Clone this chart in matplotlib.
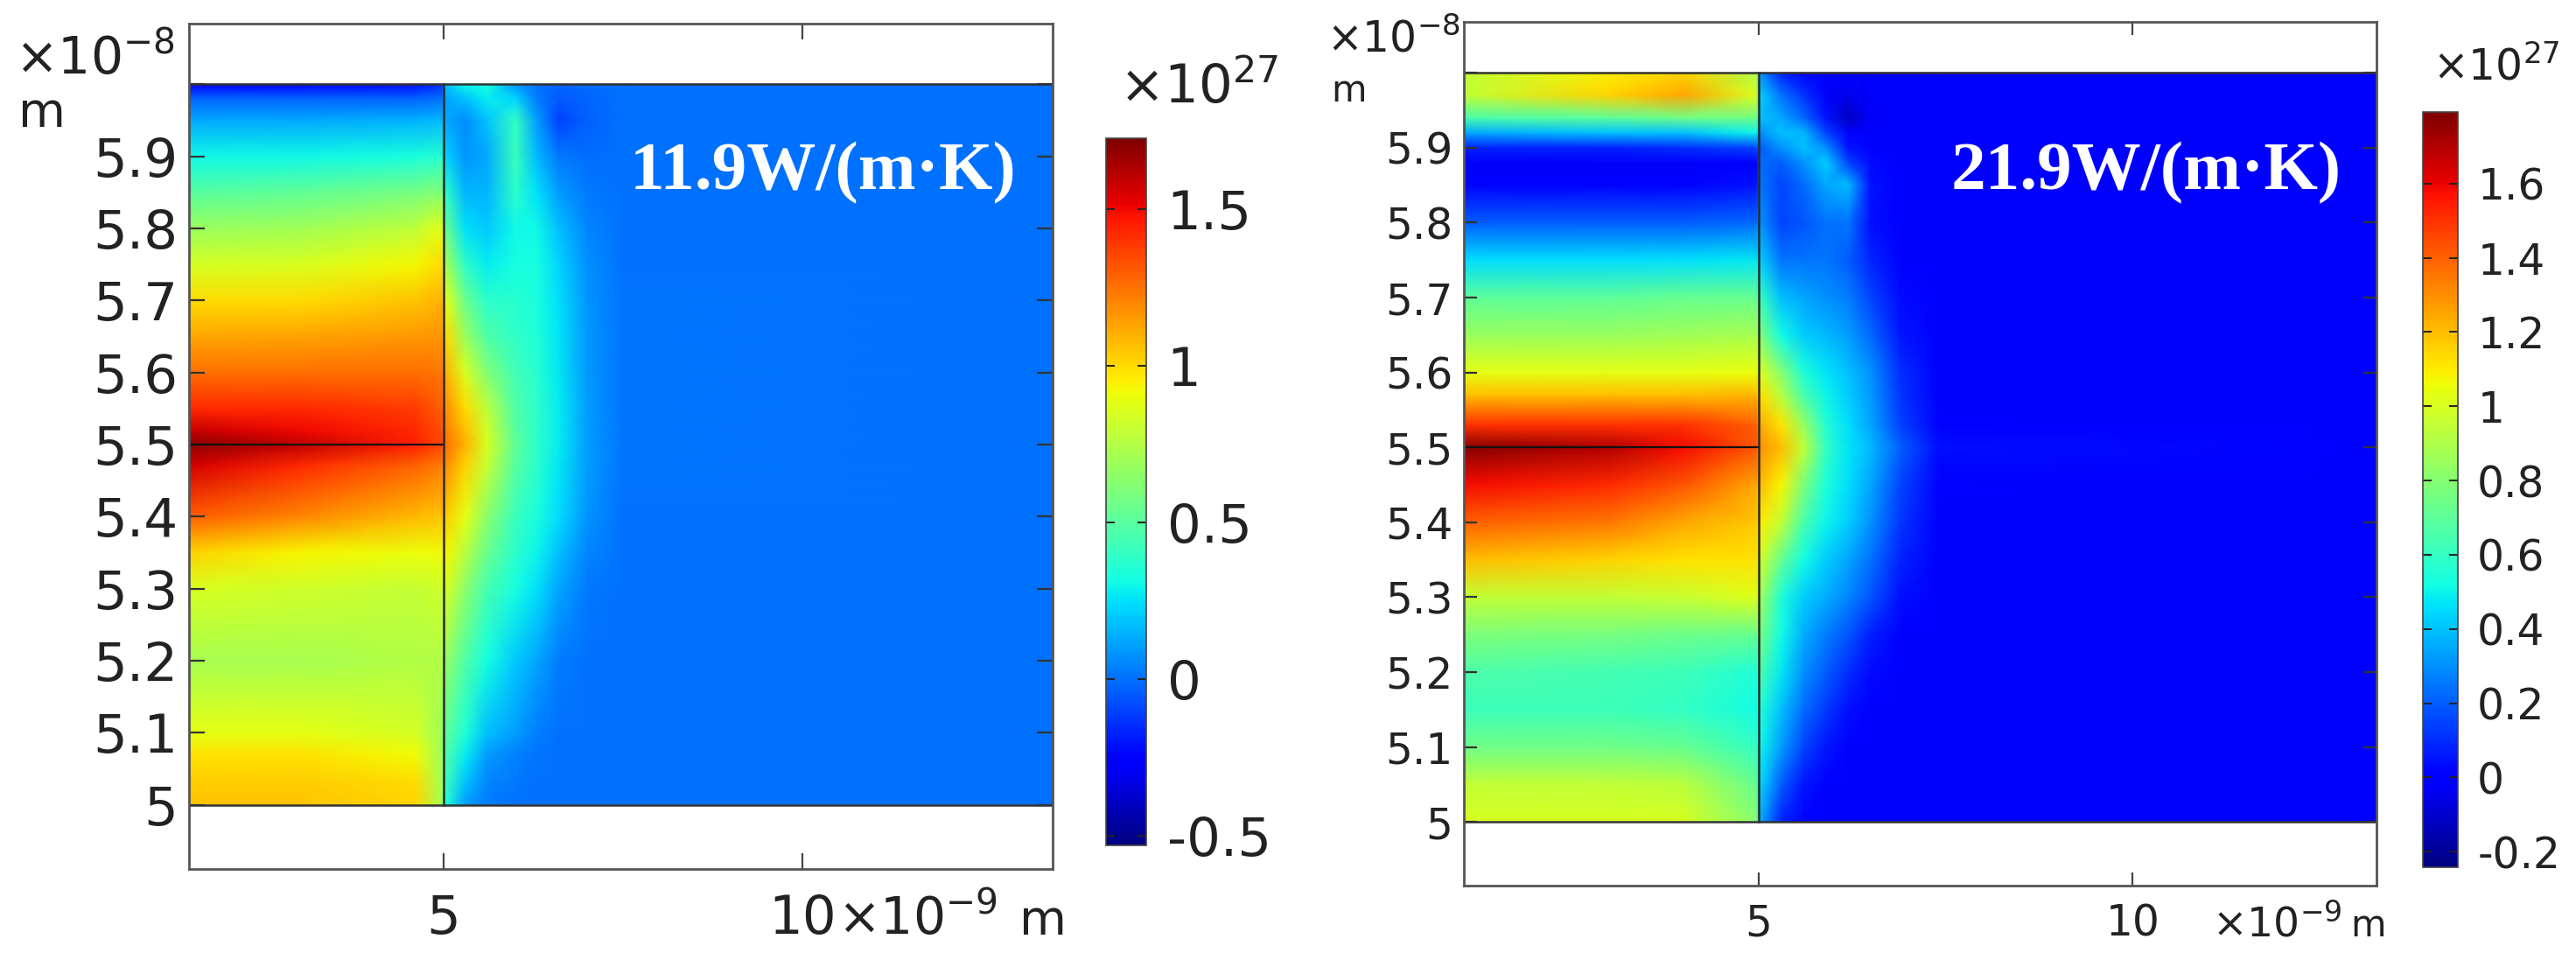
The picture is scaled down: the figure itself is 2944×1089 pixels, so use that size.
import numpy as np
import matplotlib
matplotlib.use("Agg")
import matplotlib.pyplot as plt

plt.rcParams['mathtext.default'] = 'regular'
plt.rcParams['font.family'] = 'DejaVu Sans'
W, H = 2944, 1089

# sample positions (x in 1e-9 m, y in 1e-8 m)
x_a = [1.45, 3.0, 4.6, 4.97, 5.03, 5.3, 5.6, 6.0, 6.3, 6.6, 7.0, 7.5, 13.5]
y_a = [5.0, 5.03, 5.07, 5.1, 5.2, 5.3, 5.35, 5.4, 5.47, 5.5, 5.52, 5.55, 5.6,
       5.65, 5.7, 5.75, 5.8, 5.85, 5.9, 5.95, 5.98, 6.0]
field_a = [
 [1.05,1.05,1.02,0.72, 0.35,0.10,0.03,0.00,0.00,0.00,0.00,0.00,0.00],
 [1.03,1.03,1.00,0.72, 0.42,0.18,0.05,0.02,0.00,0.00,0.00,0.00,0.00],
 [0.98,0.98,0.92,0.70, 0.48,0.28,0.10,0.04,0.01,0.00,0.00,0.00,0.00],
 [0.88,0.88,0.84,0.70, 0.52,0.35,0.18,0.10,0.03,0.00,0.00,0.00,0.00],
 [0.72,0.72,0.74,0.74, 0.66,0.48,0.32,0.20,0.12,0.03,0.00,0.00,0.00],
 [0.85,0.82,0.80,0.82, 0.85,0.65,0.45,0.32,0.25,0.12,0.02,0.00,0.00],
 [1.02,0.94,0.90,0.92, 0.94,0.76,0.55,0.37,0.29,0.18,0.05,0.00,0.00],
 [1.30,1.20,1.08,1.05, 1.03,0.88,0.65,0.42,0.33,0.24,0.08,0.00,0.00],
 [1.55,1.42,1.28,1.22, 1.18,1.02,0.80,0.50,0.37,0.27,0.10,0.01,0.00],
 [1.70,1.60,1.45,1.35, 1.25,1.10,0.85,0.52,0.38,0.28,0.10,0.01,0.00],
 [1.58,1.50,1.42,1.33, 1.22,1.06,0.82,0.50,0.38,0.28,0.10,0.01,0.00],
 [1.42,1.42,1.38,1.30, 1.18,1.00,0.78,0.48,0.38,0.28,0.10,0.01,0.00],
 [1.25,1.25,1.25,1.24, 1.10,0.85,0.62,0.43,0.36,0.27,0.09,0.01,0.00],
 [1.12,1.13,1.16,1.17, 1.00,0.68,0.48,0.39,0.35,0.26,0.09,0.01,0.00],
 [1.00,1.00,1.05,1.10, 0.88,0.55,0.38,0.36,0.33,0.25,0.08,0.01,0.00],
 [0.84,0.85,0.93,1.00, 0.72,0.38,0.28,0.32,0.32,0.22,0.07,0.00,0.00],
 [0.68,0.70,0.78,0.88, 0.55,0.25,0.20,0.30,0.30,0.18,0.05,0.00,0.00],
 [0.50,0.52,0.58,0.62, 0.38,0.15,0.15,0.38,0.25,0.10,0.02,0.00,0.00],
 [0.30,0.30,0.33,0.36, 0.22,0.08,0.13,0.42,0.16,0.02,-.01,0.00,0.00],
 [0.13,0.13,0.14,0.16, 0.12,0.06,0.18,0.40,0.10,-.10,-.03,0.00,0.00],
 [-.02,-.02,-.02,0.00, 0.12,0.18,0.28,0.22,0.03,-.05,-.02,0.00,0.00],
 [-.25,-.25,-.22,-.15, 0.18,0.30,0.32,0.08,0.00,-.02,-.01,0.00,0.00],
]
x_b = [1.06, 3.0, 4.0, 4.97, 5.03, 5.3, 5.6, 5.9, 6.2, 6.5, 6.9, 7.4, 13.3]
y_b = [5.0, 5.05, 5.1, 5.15, 5.2, 5.25, 5.3, 5.35, 5.4, 5.45, 5.5, 5.53, 5.57, 5.6,
       5.65, 5.7, 5.75, 5.8, 5.85, 5.88, 5.9, 5.92, 5.94, 5.97, 6.0]
field_b = [
 [1.00,1.00,1.00,0.80, 0.35,0.08,0.02,0.00,0.00,0.00,0.00,0.00,0.00],
 [0.95,0.95,0.93,0.72, 0.44,0.20,0.06,0.01,0.00,0.00,0.00,0.00,0.00],
 [0.75,0.75,0.72,0.60, 0.50,0.33,0.15,0.06,0.01,0.00,0.00,0.00,0.00],
 [0.62,0.62,0.60,0.52, 0.55,0.40,0.23,0.13,0.04,0.00,0.00,0.00,0.00],
 [0.66,0.64,0.62,0.55, 0.65,0.48,0.30,0.20,0.10,0.03,0.00,0.00,0.00],
 [0.78,0.76,0.74,0.72, 0.75,0.52,0.36,0.26,0.18,0.07,0.01,0.00,0.00],
 [0.95,0.95,0.96,1.02, 0.85,0.55,0.42,0.36,0.28,0.18,0.04,0.00,0.00],
 [1.20,1.15,1.12,1.12, 0.98,0.72,0.52,0.42,0.34,0.24,0.08,0.00,0.00],
 [1.40,1.35,1.25,1.18, 1.10,0.95,0.65,0.50,0.42,0.30,0.12,0.01,0.00],
 [1.58,1.52,1.42,1.25, 1.20,1.08,0.78,0.54,0.45,0.34,0.15,0.02,0.00],
 [1.78,1.70,1.58,1.42, 1.30,1.20,0.95,0.60,0.47,0.38,0.20,0.04,0.00],
 [1.50,1.50,1.50,1.40, 1.24,1.12,0.85,0.56,0.45,0.34,0.14,0.02,0.00],
 [1.20,1.20,1.20,1.22, 1.12,0.92,0.65,0.50,0.42,0.32,0.12,0.01,0.00],
 [1.03,1.03,1.03,1.05, 1.00,0.80,0.55,0.47,0.40,0.30,0.10,0.00,0.00],
 [0.85,0.85,0.87,0.88, 0.78,0.52,0.42,0.38,0.33,0.22,0.06,0.00,0.00],
 [0.70,0.70,0.72,0.72, 0.60,0.40,0.34,0.30,0.26,0.15,0.03,0.00,0.00],
 [0.45,0.45,0.46,0.48, 0.42,0.25,0.25,0.25,0.20,0.09,0.01,0.00,0.00],
 [0.20,0.20,0.20,0.22, 0.30,0.15,0.18,0.24,0.25,0.04,0.00,0.00,0.00],
 [0.02,0.02,0.02,0.05, 0.25,0.15,0.22,0.35,0.38,0.05,0.00,0.00,0.00],
 [-.02,-.02,-.02,0.02, 0.22,0.20,0.30,0.42,0.15,0.03,0.00,0.00,0.00],
 [0.08,0.08,0.10,0.15, 0.20,0.30,0.40,0.30,0.05,0.00,0.00,0.00,0.00],
 [0.35,0.40,0.40,0.50, 0.30,0.40,0.38,0.15,0.00,0.00,0.00,0.00,0.00],
 [0.65,0.70,0.75,0.75, 0.40,0.35,0.22,0.05,-.12,-.02,0.00,0.00,0.00],
 [0.95,1.15,1.25,1.00, 0.42,0.25,0.12,-.02,-.05,0.00,0.00,0.00,0.00],
 [0.95,1.10,1.15,0.90, 0.30,0.08,0.02,0.00,0.00,0.00,0.00,0.00,0.00],
]
y_ticks = [5.0, 5.1, 5.2, 5.3, 5.4, 5.5, 5.6, 5.7, 5.8, 5.9, 6.0]
y_labels = ['5', '5.1', '5.2', '5.3', '5.4', '5.5', '5.6', '5.7', '5.8', '5.9', '']
x_ticks = [5, 10]
x_labels = ['5', '10']
cb_ticks_a = [-0.5, 0, 0.5, 1, 1.5]
cb_labels_a = ['-0.5', '0', '0.5', '1', '1.5']
cb_ticks_b = [-0.2, 0, 0.2, 0.4, 0.6, 0.8, 1, 1.2, 1.4, 1.6]
cb_labels_b = ['-0.2', '0', '0.2', '0.4', '0.6', '0.8', '1', '1.2', '1.4', '1.6']
titles = ['11.9W/(m·K)', '21.9W/(m·K)']

fig = plt.figure(figsize=(W / 100, H / 100), dpi=100)
def box(x0, y0, x1, y1):
    return [x0 / W, 1 - y1 / H, (x1 - x0) / W, (y1 - y0) / H]
def ptxt(x, y, s, **kw):
    kw.setdefault('color', '#222222')
    kw.setdefault('ha', 'left')
    kw.setdefault('va', 'baseline')
    fig.text(x / W, 1 - y / H, s, **kw)

def panel(frame, cbox, xs, ys, field, xlim, ylim, vlim, cbt, cbl, fs, xpad, cpad, tl):
    ax = fig.add_axes(box(*frame))
    m = ax.pcolormesh(xs, ys, np.array(field), shading='gouraud', cmap='jet',
                      vmin=vlim[0], vmax=vlim[1], rasterized=True)
    ax.set_xlim(xlim); ax.set_ylim(ylim)
    ax.plot([xlim[0], 5], [5.5, 5.5], color='#111111', lw=1.6)
    ax.plot([5, 5], [5.0, 6.0], color='#2a2a2a', lw=1.8)
    ax.axhline(5.0, color='#333333', lw=1.8)
    ax.axhline(6.0, color='#333333', lw=1.8)
    ax.set_yticks(y_ticks); ax.set_yticklabels(y_labels)
    ax.set_xticks(x_ticks); ax.set_xticklabels(x_labels)
    ax.tick_params(axis='y', direction='in', right=True, length=tl, width=1.6,
                   color='#333333', labelsize=fs, labelcolor='#222222', pad=9)
    ax.tick_params(axis='x', direction='in', top=True, length=tl, width=1.6,
                   color='#444444', labelsize=fs, labelcolor='#222222', pad=xpad)
    for s in ax.spines.values():
        s.set_linewidth(2); s.set_color('#555555')
    cax = fig.add_axes(box(*cbox))
    cb = fig.colorbar(m, cax=cax)
    cb.set_ticks(cbt); cb.set_ticklabels(cbl)
    cb.outline.set_linewidth(1.2); cb.outline.set_edgecolor('#444444')
    cax.tick_params(direction='in', left=True, right=True, length=7, width=1.4,
                    color='#222222', labelsize=fs, labelcolor='#222222', pad=cpad)
    return ax

ax1 = panel((216, 27, 1203, 993), (1264, 158, 1310, 966), x_a, y_a, field_a,
            (1.45, 13.49), (4.911, 6.084), (-0.531, 1.726), cb_ticks_a, cb_labels_a,
            44, 20, 17, 13)
ax2 = panel((1673, 25, 2716, 1012), (2769, 128, 2809, 991), x_b, y_b, field_b,
            (1.06, 13.26), (4.915, 6.068), (-0.242, 1.793), cb_ticks_b, cb_labels_b,
            35, 14, 16, 11)

ptxt(17, 85, r'$\times10^{-8}$', fontsize=42)
ptxt(21, 145, 'm', fontsize=40)
ptxt(1279, 118, r'$\times10^{27}$', fontsize=44)
ptxt(957, 1068, r'$\times10^{-9}$', fontsize=42)
ptxt(1165, 1068, 'm', fontsize=40)

ptxt(1516, 60, r'$\times10^{-8}$', fontsize=35)
ptxt(1521, 116, 'm', fontsize=30)
ptxt(2780, 92, r'$\times10^{27}$', fontsize=35)
ptxt(2528, 1070, r'$\times10^{-9}$', fontsize=34)
ptxt(2686, 1070, 'm', fontsize=30)

ptxt(720, 216, titles[0], fontsize=57, color='white', family='Liberation Serif', weight='bold')
ptxt(2230, 216, titles[1], fontsize=57, color='white', family='Liberation Serif', weight='bold')

fig.savefig('out.png', dpi=100)
